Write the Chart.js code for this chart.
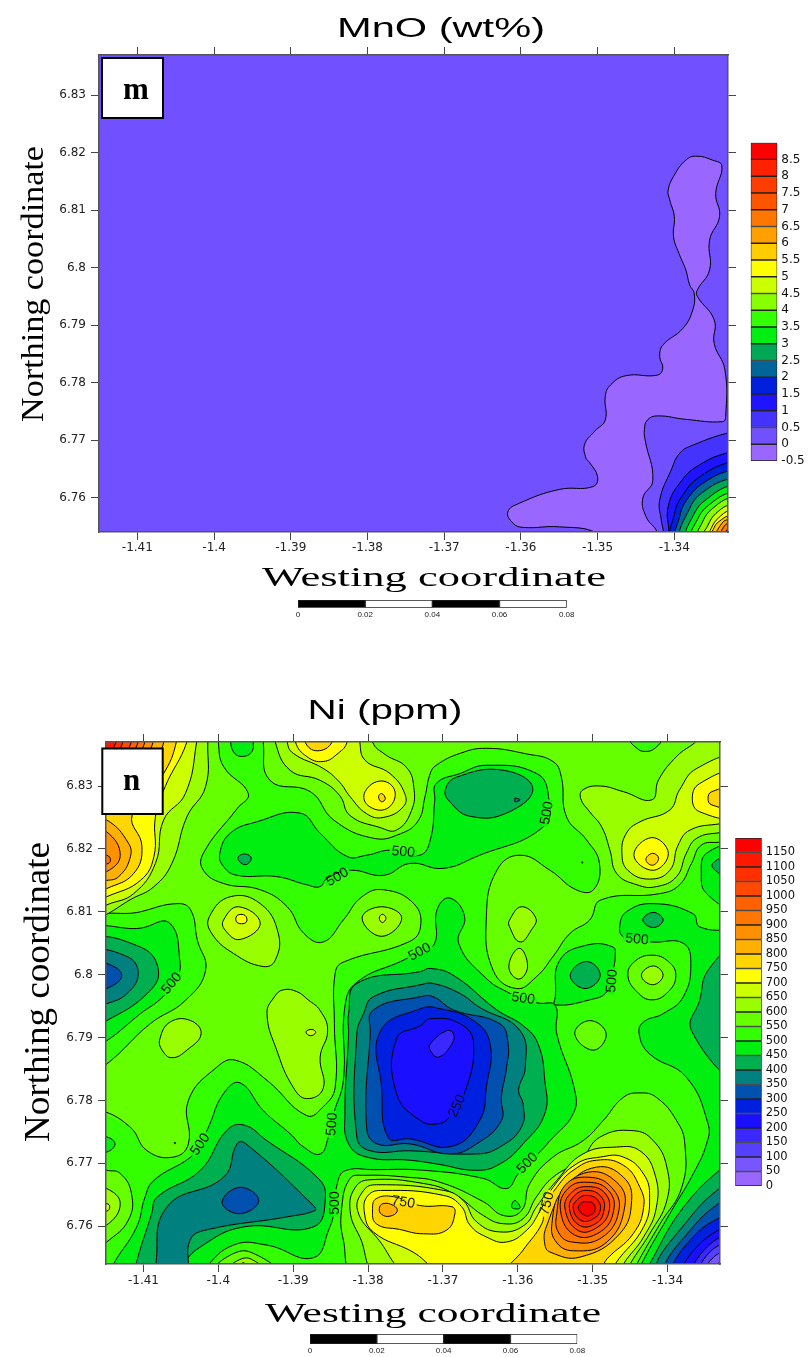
<!DOCTYPE html>
<html>
<head>
<meta charset="utf-8">
<title>MnO and Ni contour maps</title>
<script src="https://cdn.jsdelivr.net/npm/chart.js@4/dist/chart.umd.min.js"></script>
<style>
  html, body { margin: 0; background: #fff; }
  canvas { position: absolute; }
</style>
</head>
<body>
<canvas id="mapMno" width="808" height="640" style="left:0;top:0"></canvas>
<canvas id="mapNi" width="808" height="717" style="left:0;top:640px"></canvas>
<canvas id="barMno" width="63" height="340" style="left:745px;top:135px"></canvas>
<canvas id="barNi" width="78" height="365" style="left:730px;top:830px"></canvas>
<canvas id="scaleMno" width="290" height="28" style="left:290px;top:595px"></canvas>
<canvas id="scaleNi" width="290" height="28" style="left:302px;top:1329px"></canvas>
<script>
// axes
const lonTicks = [-1.41, -1.4, -1.39, -1.38, -1.37, -1.36, -1.35, -1.34];
const latTicks = [6.76, 6.77, 6.78, 6.79, 6.8, 6.81, 6.82, 6.83];
const lonRange = [-1.415, -1.333];
const latRange = [6.754, 6.837];
const scaleTicks = [0, 0.02, 0.04, 0.06, 0.08];
const scaleColors = ['#000000', '#ffffff', '#000000', '#ffffff'];
const corner = [-1.33, 6.752];

// MnO colour scale
const mnoEdges = [-0.5, 0, 0.5, 1, 1.5, 2, 2.5, 3, 3.5, 4, 4.5, 5, 5.5, 6, 6.5, 7, 7.5, 8, 8.5, 9];
const mnoColors = ['#9966ff', '#7050ff', '#4433ff', '#1f14ff', '#0020dd', '#006699', '#00a855', '#00ee11', '#33ff00', '#88ff00',
  '#ccff00', '#ffff00', '#ffcc00', '#ffa000', '#ff7700', '#ff5500', '#ff3d00', '#ff2200', '#ff0000'];

// MnO contours, lon/lat
const mnoBase = [[-1.5, 6.9], [-1.3, 6.9], [-1.3, 6.7], [-1.5, 6.7]];
const mnoLow = [[-1.3338, 6.8177], [-1.335, 6.8187], [-1.3372, 6.8194], [-1.3385, 6.8187], [-1.34, 6.8161], [-1.3408, 6.8135], [-1.3406, 6.8118],
  [-1.34, 6.8089], [-1.3401, 6.8054], [-1.3394, 6.8025], [-1.3385, 6.7996], [-1.338, 6.797], [-1.3374, 6.7955], [-1.3376, 6.7926], [-1.3389, 6.7894],
  [-1.3415, 6.7865], [-1.3419, 6.7845], [-1.3415, 6.7825], [-1.3422, 6.7813], [-1.3463, 6.7812], [-1.3483, 6.7796], [-1.349, 6.7776], [-1.349, 6.7735],
  [-1.3504, 6.7715], [-1.3517, 6.7692], [-1.3515, 6.7668], [-1.3511, 6.7662], [-1.35, 6.7636], [-1.3506, 6.7619], [-1.355, 6.7614], [-1.3602, 6.759],
  [-1.3617, 6.7575], [-1.361, 6.7555], [-1.3597, 6.7548], [-1.355, 6.7549], [-1.3502, 6.7539], [-1.3502, 6.752], [-1.3422, 6.752], [-1.3422, 6.7539],
  [-1.3437, 6.7567], [-1.3441, 6.7599], [-1.3428, 6.763], [-1.3438, 6.77], [-1.3439, 6.7718], [-1.3435, 6.7735], [-1.3422, 6.7742], [-1.3385, 6.7736],
  [-1.3337, 6.7732], [-1.3333, 6.7741], [-1.3334, 6.7822], [-1.3348, 6.7868], [-1.3348, 6.7909], [-1.337, 6.795], [-1.337, 6.7961], [-1.3354, 6.7996],
  [-1.3354, 6.8048], [-1.3341, 6.8089], [-1.3346, 6.8129]];
const mno05 = [[-1.3325, 6.7714], [-1.3376, 6.7691], [-1.3393, 6.7677], [-1.3404, 6.7648], [-1.3419, 6.7596], [-1.3417, 6.7561], [-1.3414, 6.7539], [-1.3414, 6.7526], corner, [-1.33, 6.7716]];
const mno10 = [[-1.3325, 6.768], [-1.3367, 6.7657], [-1.3393, 6.7625], [-1.3408, 6.7584], [-1.3407, 6.7539], [-1.3407, 6.7526], corner, [-1.33, 6.7682]];
const mno15 = [[-1.3325, 6.7663], [-1.3367, 6.7636], [-1.3389, 6.7604], [-1.34, 6.757], [-1.3401, 6.7526], corner, [-1.33, 6.7665]];
const mno20 = [[-1.3325, 6.7648], [-1.3359, 6.7628], [-1.3382, 6.7599], [-1.3393, 6.7567], [-1.3395, 6.7526], corner, [-1.33, 6.765]];
const mno25 = [[-1.3325, 6.7634], [-1.3359, 6.7613], [-1.338, 6.7581], [-1.3389, 6.7526], corner, [-1.33, 6.7636]];
const mno30 = [[-1.3325, 6.7622], [-1.3354, 6.7601], [-1.3374, 6.7572], [-1.3382, 6.7526], corner, [-1.33, 6.7624]];
const mno35 = [[-1.3325, 6.761], [-1.3352, 6.759], [-1.3369, 6.7564], [-1.3376, 6.7526], corner, [-1.33, 6.7612]];
const mno40 = [[-1.3325, 6.7601], [-1.335, 6.7581], [-1.3363, 6.7558], [-1.3369, 6.7526], corner, [-1.33, 6.7603]];
const mno45 = [[-1.3325, 6.7589], [-1.3346, 6.7572], [-1.3356, 6.7552], [-1.3363, 6.7526], corner, [-1.33, 6.7591]];
const mno50 = [[-1.3325, 6.7579], [-1.3342, 6.7565], [-1.3352, 6.7546], [-1.3356, 6.7526], corner, [-1.33, 6.7581]];
const mno55 = [[-1.3325, 6.757], [-1.3339, 6.7561], [-1.3348, 6.7548], [-1.3351, 6.7526], corner, [-1.33, 6.7572]];
const mno60 = [[-1.3325, 6.7563], [-1.3338, 6.7555], [-1.3345, 6.7526], corner, [-1.33, 6.7565]];
const mno65 = [[-1.3325, 6.7557], [-1.3335, 6.755], [-1.334, 6.7526], corner, [-1.33, 6.7559]];
const mno70 = [[-1.3325, 6.7551], [-1.3335, 6.7526], corner, [-1.33, 6.7553]];
const mnoRings = [[0, mnoBase], [-0.5, mnoLow], [0.5, mno05], [1, mno10], [1.5, mno15], [2, mno20], [2.5, mno25], [3, mno30], [3.5, mno35],
  [4, mno40], [4.5, mno45], [5, mno50], [5.5, mno55], [6, mno60], [6.5, mno65], [7, mno70]];

// Ni colour scale
const niEdges = [0, 50, 100, 150, 200, 250, 300, 350, 400, 450, 500, 550, 600, 650, 700, 750, 800, 850, 900, 950, 1000, 1050, 1100, 1150, 1200];
const niColors = ['#9966ff', '#7755ff', '#5540ff', '#3a28ff', '#1a10ff', '#0020e0', '#0050b0', '#00807f', '#00b050', '#00ee10', '#33ff00', '#66ff00',
  '#99ff00', '#ccff00', '#ffff00', '#ffd500', '#ffb000', '#ff9000', '#ff7700', '#ff6000', '#ff4800', '#ff3000', '#ff1800', '#ff0000'];

// Ni contours above 550
const niBase = [[-1.5, 6.9], [-1.3, 6.9], [-1.3, 6.7], [-1.5, 6.7]];
const niWest550 = [[-1.416, 6.7785], [-1.4118, 6.7758], [-1.4095, 6.772], [-1.406, 6.771], [-1.404, 6.7731], [-1.404, 6.78], [-1.4002, 6.7853], [-1.3977, 6.7864],
  [-1.3935, 6.7832], [-1.3882, 6.7776], [-1.386, 6.779], [-1.3844, 6.7821], [-1.3845, 6.7922], [-1.3844, 6.8002], [-1.3833, 6.802], [-1.3746, 6.8052],
  [-1.373, 6.8076], [-1.3739, 6.8113], [-1.3779, 6.8135], [-1.3808, 6.8124], [-1.3833, 6.8087], [-1.386, 6.8052], [-1.3886, 6.8066], [-1.3908, 6.8108],
  [-1.3944, 6.8135], [-1.3993, 6.8145], [-1.402, 6.8166], [-1.402, 6.8193], [-1.3975, 6.8264], [-1.396, 6.8288], [-1.3993, 6.8331], [-1.4, 6.837],
  [-1.4, 6.84], [-1.42, 6.84], [-1.42, 6.7785]];
const niEast550 = [[-1.394, 6.84], [-1.394, 6.837], [-1.3931, 6.8309], [-1.3877, 6.8291], [-1.3846, 6.8246], [-1.3793, 6.8217], [-1.3757, 6.8224], [-1.3733, 6.8245],
  [-1.3724, 6.8283], [-1.3717, 6.832], [-1.3709, 6.8333], [-1.3677, 6.8352], [-1.3642, 6.836], [-1.3588, 6.8351], [-1.3553, 6.8339], [-1.3542, 6.8315],
  [-1.3535, 6.8251], [-1.3508, 6.8214], [-1.3491, 6.8177], [-1.3499, 6.8135], [-1.3522, 6.8135], [-1.3557, 6.8166], [-1.3597, 6.819], [-1.3628, 6.8166],
  [-1.3642, 6.8092], [-1.3633, 6.8007], [-1.3602, 6.7978], [-1.3575, 6.7997], [-1.3553, 6.8029], [-1.353, 6.8066], [-1.3504, 6.8087], [-1.3489, 6.8119],
  [-1.341, 6.8129], [-1.3384, 6.8143], [-1.3368, 6.8177], [-1.3355, 6.8206], [-1.333, 6.8211], [-1.331, 6.8215], [-1.33, 6.84]];
const niHill550 = [[-1.3815, 6.7525], [-1.3833, 6.7578], [-1.3835, 6.7631], [-1.3824, 6.7676], [-1.3806, 6.7681], [-1.3748, 6.7678], [-1.3704, 6.767], [-1.3646, 6.7639],
  [-1.3619, 6.7617], [-1.3595, 6.7625], [-1.3584, 6.7668], [-1.3553, 6.771], [-1.3513, 6.7736], [-1.3486, 6.7768], [-1.3459, 6.7805], [-1.3437, 6.7812],
  [-1.3415, 6.7805], [-1.3388, 6.7768], [-1.3377, 6.7731], [-1.3381, 6.7662], [-1.341, 6.7604], [-1.3441, 6.754], [-1.3446, 6.7524]];
const niBump550 = [[-1.4004, 6.753], [-1.3975, 6.7559], [-1.3948, 6.7554], [-1.3924, 6.753]];
const niBump600 = [[-1.3987, 6.753], [-1.3967, 6.7549], [-1.3949, 6.7543], [-1.3938, 6.753]];
const niBump650 = [[-1.3971, 6.7533], [-1.3967, 6.7542], [-1.396, 6.7533]];
const niEdge550 = [[-1.417, 6.756], [-1.4149, 6.7575], [-1.412, 6.761], [-1.4116, 6.7652], [-1.4131, 6.7684], [-1.4149, 6.7689], [-1.417, 6.7695]];
const niEdge600 = [[-1.417, 6.766], [-1.4149, 6.766], [-1.4131, 6.7636], [-1.4149, 6.7602], [-1.417, 6.7602]];
const niEdge650 = [[-1.417, 6.7636], [-1.4149, 6.7636], [-1.4145, 6.7631], [-1.4149, 6.7624], [-1.417, 6.7624]];
const niSouth550 = [[-1.3453, 6.7999], [-1.3444, 6.8021], [-1.3421, 6.8031], [-1.3399, 6.8021], [-1.3389, 6.7999], [-1.3399, 6.7973], [-1.3421, 6.796], [-1.3441, 6.7973]];
const niSouth600 = [[-1.3435, 6.7999], [-1.3419, 6.8014], [-1.3406, 6.7999], [-1.342, 6.7984]];
const niMid550 = [[-1.3524, 6.7906], [-1.3504, 6.7927], [-1.3482, 6.7906], [-1.3499, 6.788]];

// holes in the 550 area
const niHole550 = [[-1.417, 6.808], [-1.4104, 6.81], [-1.4055, 6.8113], [-1.4037, 6.8103], [-1.4028, 6.8055], [-1.4017, 6.8007], [-1.4044, 6.7959], [-1.4091, 6.7922], [-1.4149, 6.7858], [-1.417, 6.7848]];
const niTopHole = [[-1.3453, 6.84], [-1.3453, 6.8378], [-1.3441, 6.836], [-1.343, 6.8355], [-1.3417, 6.836], [-1.3406, 6.8378], [-1.3406, 6.84]];
const niDotA = [[-1.4059, 6.7733], [-1.4057, 6.7733], [-1.4058, 6.7731]];
const niDotB = [[-1.3515, 6.8179], [-1.3513, 6.8179], [-1.3514, 6.8177]];

// north-west corner and west peak
const niNw600 = [[-1.4014, 6.84], [-1.4014, 6.837], [-1.4017, 6.8299], [-1.4042, 6.8251], [-1.4062, 6.8177], [-1.4086, 6.814], [-1.4118, 6.8119], [-1.4149, 6.8096], [-1.417, 6.8085], [-1.42, 6.84]];
const niNw650 = [[-1.4029, 6.84], [-1.4029, 6.837], [-1.4044, 6.8288], [-1.4073, 6.8246], [-1.4084, 6.8177], [-1.4113, 6.8129], [-1.4149, 6.8111], [-1.417, 6.81], [-1.42, 6.84]];
const niNw700 = [[-1.4042, 6.84], [-1.4042, 6.837], [-1.4071, 6.8299], [-1.4084, 6.8251], [-1.4086, 6.8188], [-1.4104, 6.815], [-1.4149, 6.8124], [-1.417, 6.8115], [-1.42, 6.84]];
const niNw750 = [[-1.4056, 6.84], [-1.4056, 6.837], [-1.4073, 6.832], [-1.4115, 6.8254], [-1.4102, 6.8204], [-1.4113, 6.8161], [-1.4149, 6.8137], [-1.417, 6.813], [-1.42, 6.84]];
const niW800 = [[-1.417, 6.8246], [-1.4149, 6.8246], [-1.412, 6.8209], [-1.4118, 6.8185], [-1.4133, 6.8156], [-1.4149, 6.815], [-1.417, 6.815]];
const niW850 = [[-1.417, 6.8227], [-1.4149, 6.8227], [-1.4131, 6.819], [-1.4149, 6.8164], [-1.417, 6.8164]];
const niW900 = [[-1.417, 6.819], [-1.4149, 6.819], [-1.4144, 6.8182], [-1.4149, 6.8176], [-1.417, 6.8176]];
const niC800 = [[-1.407, 6.84], [-1.407, 6.838], [-1.4087, 6.8347], [-1.417, 6.8347], [-1.417, 6.84]];
const niC850 = [[-1.4084, 6.84], [-1.4084, 6.838], [-1.4102, 6.8347], [-1.417, 6.8347], [-1.417, 6.84]];
const niC900 = [[-1.4095, 6.84], [-1.4095, 6.838], [-1.4113, 6.8347], [-1.417, 6.8347], [-1.417, 6.84]];
const niC950 = [[-1.4104, 6.84], [-1.4104, 6.838], [-1.4122, 6.8347], [-1.417, 6.8347], [-1.417, 6.84]];
const niC1000 = [[-1.4113, 6.84], [-1.4113, 6.838], [-1.4131, 6.8347], [-1.417, 6.8347], [-1.417, 6.84]];
const niC1050 = [[-1.4124, 6.84], [-1.4124, 6.838], [-1.4142, 6.8347], [-1.417, 6.8347], [-1.417, 6.84]];
const niC1100 = [[-1.4133, 6.84], [-1.4133, 6.838], [-1.4151, 6.8347], [-1.417, 6.8347], [-1.417, 6.84]];

// small highs, west half
const niA600 = [[-1.4012, 6.8092], [-1.3984, 6.8124], [-1.3944, 6.8113], [-1.392, 6.8066], [-1.3924, 6.8023], [-1.394, 6.8013], [-1.398, 6.8034], [-1.4009, 6.8066]];
const niA650 = [[-1.3993, 6.8087], [-1.3973, 6.8108], [-1.3944, 6.8082], [-1.3971, 6.8056], [-1.3991, 6.8071]];
const niA700 = [[-1.3975, 6.8094], [-1.3964, 6.8094], [-1.3963, 6.8083], [-1.3975, 6.8083]];
const niB600 = [[-1.3808, 6.809], [-1.3782, 6.8108], [-1.3755, 6.809], [-1.3782, 6.8061]];
const niB650 = [[-1.3785, 6.809], [-1.3781, 6.8096], [-1.3776, 6.809], [-1.3781, 6.8083]];
const niD600 = [[-1.4078, 6.7898], [-1.4064, 6.7925], [-1.4037, 6.7927], [-1.4023, 6.7906], [-1.4042, 6.788], [-1.4062, 6.7868], [-1.4075, 6.788]];
const niE600 = [[-1.3913, 6.7976], [-1.3895, 6.7973], [-1.388, 6.796], [-1.3864, 6.7943], [-1.3854, 6.7911], [-1.3864, 6.7869], [-1.386, 6.7819], [-1.3882, 6.7803],
  [-1.39, 6.7821], [-1.3922, 6.788], [-1.3935, 6.7938], [-1.3925, 6.7965]];
const niE650 = [[-1.3883, 6.7909], [-1.3875, 6.7913], [-1.387, 6.7908], [-1.3877, 6.7903]];

// top hill near -1.38
const niT600 = [[-1.3794, 6.84], [-1.3794, 6.837], [-1.3777, 6.835], [-1.3749, 6.833], [-1.3739, 6.8299], [-1.3742, 6.8261], [-1.3762, 6.823], [-1.3784, 6.8234],
  [-1.3824, 6.8253], [-1.3838, 6.8285], [-1.3864, 6.8309], [-1.3904, 6.8325], [-1.3924, 6.837], [-1.3924, 6.84]];
const niT650 = [[-1.3811, 6.84], [-1.3811, 6.837], [-1.3804, 6.8341], [-1.3771, 6.832], [-1.3751, 6.8288], [-1.3753, 6.8267], [-1.378, 6.825], [-1.3802, 6.8256],
  [-1.3824, 6.8283], [-1.3838, 6.8306], [-1.386, 6.8328], [-1.39, 6.8352], [-1.3908, 6.837], [-1.3908, 6.84]];
const niT700 = [[-1.3897, 6.84], [-1.3897, 6.837], [-1.3882, 6.8347], [-1.386, 6.8339], [-1.384, 6.8352], [-1.3828, 6.837], [-1.3828, 6.84]];
const niT750 = [[-1.3884, 6.84], [-1.3884, 6.837], [-1.3868, 6.8356], [-1.3848, 6.837], [-1.3848, 6.84]];
const niU700 = [[-1.3804, 6.8291], [-1.3782, 6.8308], [-1.3764, 6.8291], [-1.3775, 6.8264], [-1.38, 6.8269]];
const niU750 = [[-1.3786, 6.8283], [-1.3782, 6.8288], [-1.3777, 6.828], [-1.3782, 6.8275]];

// north-east highs
const niNe600 = [[-1.3357, 6.84], [-1.3357, 6.8378], [-1.3388, 6.8347], [-1.3412, 6.831], [-1.3421, 6.8278], [-1.3459, 6.8291], [-1.349, 6.83], [-1.3513, 6.8294],
  [-1.3516, 6.828], [-1.3504, 6.8259], [-1.3488, 6.8235], [-1.3477, 6.8198], [-1.3468, 6.8161], [-1.3441, 6.8143], [-1.3415, 6.814], [-1.3388, 6.8156],
  [-1.3375, 6.8193], [-1.3361, 6.8217], [-1.333, 6.8226], [-1.331, 6.8228], [-1.33, 6.84]];
const niNe650 = [[-1.331, 6.8342], [-1.3361, 6.8328], [-1.3384, 6.8294], [-1.3397, 6.8262], [-1.3437, 6.8243], [-1.3455, 6.8225], [-1.3461, 6.8193], [-1.3453, 6.8166],
  [-1.3424, 6.8152], [-1.3397, 6.8166], [-1.3386, 6.8206], [-1.337, 6.823], [-1.333, 6.824], [-1.331, 6.8242]];
const niNe700 = [[-1.331, 6.832], [-1.3357, 6.8304], [-1.3367, 6.828], [-1.3357, 6.8259], [-1.331, 6.8254]];
const niNe750 = [[-1.331, 6.8296], [-1.3341, 6.8291], [-1.3346, 6.828], [-1.3341, 6.827], [-1.331, 6.8266]];
const niV700 = [[-1.3445, 6.819], [-1.3421, 6.8218], [-1.3399, 6.8193], [-1.3419, 6.8166]];
const niV750 = [[-1.3429, 6.8183], [-1.342, 6.8193], [-1.3412, 6.8185], [-1.342, 6.8174]];
const niF600 = [[-1.3611, 6.8087], [-1.3595, 6.8108], [-1.3576, 6.809], [-1.3582, 6.8071], [-1.3597, 6.8052], [-1.3611, 6.8076]];
const niG600 = [[-1.3598, 6.8042], [-1.3587, 6.8013], [-1.3599, 6.7993], [-1.3612, 6.8013]];

// south hill and the peak
const niHill600 = [[-1.3784, 6.7525], [-1.3811, 6.7583], [-1.3824, 6.7625], [-1.3817, 6.7662], [-1.3797, 6.7674], [-1.3726, 6.7668], [-1.3686, 6.7652], [-1.3646, 6.7617],
  [-1.3619, 6.7604], [-1.3593, 6.7612], [-1.3575, 6.7647], [-1.3553, 6.7678], [-1.3517, 6.7705], [-1.349, 6.7742], [-1.3446, 6.7752], [-1.3419, 6.7736],
  [-1.3401, 6.7694], [-1.3401, 6.7641], [-1.3424, 6.7588], [-1.345, 6.754], [-1.3455, 6.7524]];
const niHill650 = [[-1.374, 6.7525], [-1.3789, 6.7583], [-1.3814, 6.7625], [-1.3806, 6.7657], [-1.3789, 6.7666], [-1.3699, 6.7657], [-1.3673, 6.7641], [-1.3655, 6.7607],
  [-1.3624, 6.7591], [-1.3591, 6.7602], [-1.3575, 6.7631], [-1.3548, 6.7673], [-1.3513, 6.7715], [-1.3468, 6.7726], [-1.3437, 6.772], [-1.3417, 6.7683],
  [-1.3415, 6.763], [-1.3432, 6.7583], [-1.3459, 6.754], [-1.3464, 6.7524]];
const niHill700 = [[-1.3695, 6.7525], [-1.374, 6.7559], [-1.3793, 6.7591], [-1.3805, 6.7623], [-1.38, 6.7649], [-1.378, 6.7657], [-1.3699, 6.7649], [-1.3675, 6.7631],
  [-1.3664, 6.7602], [-1.3642, 6.7583], [-1.3615, 6.7575], [-1.3588, 6.7594], [-1.3571, 6.7623], [-1.3553, 6.7662], [-1.3522, 6.7699], [-1.349, 6.771],
  [-1.3459, 6.771], [-1.3432, 6.7683], [-1.3424, 6.7646], [-1.3432, 6.7599], [-1.347, 6.754], [-1.3475, 6.7524]];
const niHillW750 = [[-1.3794, 6.7628], [-1.3789, 6.7604], [-1.3758, 6.7595], [-1.3726, 6.7588], [-1.3695, 6.7594], [-1.3684, 6.762], [-1.3688, 6.7631], [-1.3731, 6.7633], [-1.3766, 6.7647], [-1.3789, 6.7644]];
const niHillW800 = [[-1.3785, 6.7628], [-1.378, 6.7636], [-1.3766, 6.7633], [-1.3761, 6.7624], [-1.3771, 6.7616], [-1.3782, 6.7619]];
const niPeak750 = [[-1.3615, 6.7524], [-1.3593, 6.7562], [-1.3568, 6.7604], [-1.3564, 6.763], [-1.3548, 6.7662], [-1.3526, 6.7689], [-1.3495, 6.7705], [-1.3459, 6.7697],
  [-1.3437, 6.7662], [-1.3432, 6.763], [-1.3446, 6.7588], [-1.3481, 6.7548], [-1.3495, 6.7524]];
const niPeak800 = [[-1.3562, 6.7599], [-1.3535, 6.7662], [-1.3495, 6.7694], [-1.3459, 6.7678], [-1.3448, 6.7641], [-1.3464, 6.7588], [-1.3517, 6.7551], [-1.3557, 6.7559], [-1.3564, 6.7572]];
const niPeak850 = [[-1.3554, 6.7609], [-1.3542, 6.7654], [-1.3506, 6.7686], [-1.3468, 6.767], [-1.3457, 6.7633], [-1.3481, 6.7575], [-1.3526, 6.7561], [-1.355, 6.7577]];
const niPeak900 = [[-1.3548, 6.762], [-1.3537, 6.7665], [-1.3506, 6.7678], [-1.3475, 6.7662], [-1.3465, 6.7625], [-1.3488, 6.7582], [-1.3528, 6.7575], [-1.3546, 6.7591]];
const niPeak950 = [[-1.3543, 6.7625], [-1.3533, 6.766], [-1.3506, 6.767], [-1.3479, 6.7657], [-1.3472, 6.7625], [-1.349, 6.7591], [-1.3524, 6.7586]];
const niPeak1000 = [[-1.3537, 6.7628], [-1.3528, 6.7654], [-1.3506, 6.7663], [-1.3484, 6.7653], [-1.3478, 6.7625], [-1.3493, 6.7599], [-1.3519, 6.7593]];
const niPeak1050 = [[-1.3531, 6.7628], [-1.3524, 6.7649], [-1.3506, 6.7657], [-1.3488, 6.7646], [-1.3485, 6.7625], [-1.3495, 6.7605], [-1.3517, 6.7601]];
const niPeak1100 = [[-1.3526, 6.7628], [-1.3519, 6.7644], [-1.3506, 6.7649], [-1.3493, 6.7641], [-1.349, 6.7625], [-1.3499, 6.7612], [-1.3515, 6.7609]];
const niPeak1150 = [[-1.3519, 6.7628], [-1.3515, 6.7637], [-1.3507, 6.7639], [-1.3499, 6.7636], [-1.3497, 6.7626], [-1.3501, 6.7619], [-1.351, 6.7617]];

// lows: 500 contours
const niBig500 = [[-1.402, 6.753], [-1.398, 6.757], [-1.3935, 6.757], [-1.3873, 6.755], [-1.3851, 6.7599], [-1.3846, 6.762], [-1.384, 6.7673], [-1.3829, 6.7689],
  [-1.3793, 6.769], [-1.3726, 6.7689], [-1.3646, 6.7676], [-1.3615, 6.766], [-1.3599, 6.7684], [-1.3573, 6.7715], [-1.3557, 6.7736], [-1.3526, 6.7779],
  [-1.3524, 6.7816], [-1.3548, 6.7906], [-1.355, 6.7951], [-1.3573, 6.7955], [-1.3593, 6.7962], [-1.361, 6.797], [-1.3642, 6.7994], [-1.3679, 6.805],
  [-1.3671, 6.8092], [-1.3691, 6.8122], [-1.3708, 6.8103], [-1.3711, 6.805], [-1.3731, 6.8037], [-1.3753, 6.8023], [-1.3815, 6.7988], [-1.3831, 6.7949],
  [-1.3833, 6.7832], [-1.3846, 6.7779], [-1.3853, 6.7742], [-1.3864, 6.7715], [-1.3886, 6.7726], [-1.3904, 6.7747], [-1.394, 6.7784], [-1.3971, 6.7828],
  [-1.3993, 6.7811], [-1.4013, 6.7758], [-1.4024, 6.7731], [-1.4037, 6.771], [-1.4086, 6.7673], [-1.4098, 6.7646], [-1.4109, 6.7599], [-1.4142, 6.7535],
  [-1.4142, 6.752], [-1.402, 6.752]];
const niLobe500 = [[-1.355, 6.7965], [-1.3544, 6.8023], [-1.3508, 6.8047], [-1.3473, 6.8044], [-1.347, 6.8029], [-1.3473, 6.8007], [-1.3481, 6.7973], [-1.3504, 6.796], [-1.355, 6.7952]];
const niRight500 = [[-1.331, 6.807], [-1.3357, 6.8076], [-1.3366, 6.8097], [-1.3419, 6.8113], [-1.3455, 6.81], [-1.3464, 6.8076], [-1.3459, 6.806], [-1.3441, 6.8056],
  [-1.3421, 6.8052], [-1.3379, 6.805], [-1.3369, 6.8018], [-1.3379, 6.7965], [-1.3406, 6.7938], [-1.3432, 6.7925], [-1.3438, 6.7906], [-1.3424, 6.7874],
  [-1.3375, 6.7837], [-1.3346, 6.7763], [-1.3348, 6.7731], [-1.3366, 6.7683], [-1.3397, 6.762], [-1.3435, 6.754], [-1.3439, 6.7524], corner, [-1.33, 6.807]];
const niTop500 = [[-1.3998, 6.8193], [-1.3984, 6.8225], [-1.3949, 6.8243], [-1.3891, 6.8257], [-1.3864, 6.8225], [-1.3828, 6.8188], [-1.3802, 6.819], [-1.377, 6.8198],
  [-1.3731, 6.819], [-1.3717, 6.8214], [-1.3711, 6.8277], [-1.3709, 6.8304], [-1.3677, 6.832], [-1.3642, 6.8333], [-1.3575, 6.832], [-1.3559, 6.8283],
  [-1.3566, 6.8235], [-1.3655, 6.8188], [-1.37, 6.8169], [-1.3744, 6.8177], [-1.3779, 6.8158], [-1.3824, 6.8166], [-1.3855, 6.8153], [-1.3864, 6.814],
  [-1.3882, 6.8143], [-1.3922, 6.8156], [-1.3975, 6.8158], [-1.3993, 6.8172]];
const niBlob500 = [[-1.3984, 6.84], [-1.3984, 6.8378], [-1.398, 6.8355], [-1.3969, 6.8347], [-1.3955, 6.8355], [-1.3954, 6.8378], [-1.3954, 6.84]];
const niEdge500 = [[-1.417, 6.8065], [-1.4104, 6.8074], [-1.4065, 6.8082], [-1.4051, 6.8018], [-1.4055, 6.7997], [-1.4074, 6.7965], [-1.4104, 6.7938], [-1.4149, 6.7895], [-1.417, 6.7885]];
const niEdge450 = [[-1.417, 6.805], [-1.4104, 6.8044], [-1.408, 6.8007], [-1.4095, 6.797], [-1.4149, 6.7927], [-1.417, 6.792]];
const niEdge400 = [[-1.417, 6.8033], [-1.4122, 6.8029], [-1.4107, 6.8002], [-1.4122, 6.797], [-1.4149, 6.7954], [-1.417, 6.795]];
const niEdge350 = [[-1.417, 6.8018], [-1.4149, 6.8018], [-1.4129, 6.7999], [-1.4149, 6.7978], [-1.417, 6.7978]];
const niSide500 = [[-1.331, 6.8201], [-1.3348, 6.8193], [-1.3355, 6.8161], [-1.3348, 6.8129], [-1.331, 6.8108]];
const niSide450 = [[-1.331, 6.8188], [-1.3341, 6.8174], [-1.331, 6.8153]];
const niSmall500 = [[-1.417, 6.7742], [-1.4149, 6.7742], [-1.4138, 6.7731], [-1.4149, 6.7718], [-1.417, 6.7718]];
const niTriangle = [[-1.3608, 6.763], [-1.3604, 6.7641], [-1.3597, 6.7629]];

// lows: 450 and below
const niBig450 = [[-1.3826, 6.7938], [-1.3815, 6.7986], [-1.373, 6.8005], [-1.3717, 6.801], [-1.3686, 6.7999], [-1.3628, 6.7944], [-1.3593, 6.7919], [-1.3573, 6.789],
  [-1.3564, 6.7832], [-1.3564, 6.7779], [-1.3593, 6.7731], [-1.3624, 6.7699], [-1.3655, 6.7689], [-1.3708, 6.7699], [-1.3744, 6.7705], [-1.3802, 6.771],
  [-1.3826, 6.7731], [-1.3831, 6.7779], [-1.3826, 6.7906]];
const niBig400 = [[-1.3806, 6.7938], [-1.3793, 6.7965], [-1.373, 6.7984], [-1.3713, 6.7986], [-1.3677, 6.797], [-1.3651, 6.7948], [-1.3597, 6.7911], [-1.359, 6.7853],
  [-1.3599, 6.7816], [-1.3593, 6.7795], [-1.3595, 6.7758], [-1.3624, 6.7726], [-1.3655, 6.7715], [-1.3744, 6.772], [-1.3797, 6.772], [-1.3815, 6.7742], [-1.3815, 6.7906]];
const niBig350 = [[-1.3793, 6.7944], [-1.373, 6.7965], [-1.3713, 6.7965], [-1.3686, 6.7944], [-1.3624, 6.7922], [-1.3613, 6.789], [-1.3615, 6.7853], [-1.3622, 6.7805],
  [-1.3622, 6.7768], [-1.3655, 6.7731], [-1.3691, 6.7715], [-1.3744, 6.7731], [-1.3788, 6.7731], [-1.3802, 6.7758], [-1.3797, 6.7906]];
const niBig300 = [[-1.3784, 6.7909], [-1.373, 6.7946], [-1.3704, 6.7946], [-1.3659, 6.7927], [-1.3637, 6.789], [-1.3642, 6.7821], [-1.3651, 6.7768], [-1.3688, 6.7727],
  [-1.3744, 6.7739], [-1.3773, 6.7741], [-1.3782, 6.7821]];
const niBig250 = [[-1.373, 6.7919], [-1.3762, 6.7898], [-1.3762, 6.7811], [-1.373, 6.7768], [-1.3706, 6.7763], [-1.3691, 6.7774], [-1.3673, 6.7805], [-1.3659, 6.789], [-1.3677, 6.7922], [-1.3717, 6.793]];
const niBig200 = [[-1.3717, 6.789], [-1.3695, 6.7911], [-1.3686, 6.7906], [-1.3688, 6.789], [-1.3706, 6.7869], [-1.3717, 6.788]];
const niSw450 = [[-1.4111, 6.752], [-1.4111, 6.7535], [-1.4089, 6.762], [-1.4082, 6.7646], [-1.4024, 6.7689], [-1.3989, 6.7752], [-1.3966, 6.7761], [-1.3935, 6.7736],
  [-1.3868, 6.7678], [-1.3857, 6.7646], [-1.3873, 6.7599], [-1.3966, 6.7599], [-1.4024, 6.7567], [-1.4049, 6.7535], [-1.4049, 6.752]];
const niSw400 = [[-1.4084, 6.752], [-1.4084, 6.7535], [-1.4069, 6.763], [-1.3993, 6.7678], [-1.3975, 6.7731], [-1.3964, 6.7732], [-1.3873, 6.7633], [-1.3871, 6.7625],
  [-1.3908, 6.7615], [-1.402, 6.7593], [-1.4038, 6.7577], [-1.404, 6.7535], [-1.404, 6.752]];
const niSw350 = [[-1.3995, 6.7638], [-1.3971, 6.7662], [-1.3946, 6.7641], [-1.3971, 6.762]];
const niLobe450 = [[-1.353, 6.7999], [-1.3508, 6.8021], [-1.349, 6.7999], [-1.351, 6.7978]];
const niPatch450 = [[-1.3433, 6.8087], [-1.3419, 6.8099], [-1.3406, 6.8087], [-1.3419, 6.8075]];
const niTop450 = [[-1.3697, 6.8293], [-1.3682, 6.8314], [-1.3619, 6.8325], [-1.358, 6.8296], [-1.3615, 6.8257], [-1.3664, 6.8252], [-1.369, 6.8274]];
const niTop400 = [[-1.3604, 6.8279], [-1.3604, 6.8281], [-1.3597, 6.8278], [-1.3604, 6.8275]];
const niSpot450 = [[-1.3974, 6.8185], [-1.3965, 6.8192], [-1.3956, 6.8185], [-1.3964, 6.8175]];
const niEast450 = [[-1.331, 6.804], [-1.3346, 6.8007], [-1.3357, 6.796], [-1.3368, 6.7911], [-1.331, 6.7842]];
const niSe450 = [[-1.331, 6.771], [-1.3375, 6.7636], [-1.3424, 6.754], [-1.3428, 6.7524], corner, [-1.329, 6.7725]];
const niSe400 = [[-1.331, 6.768], [-1.337, 6.7614], [-1.3412, 6.7524], corner, [-1.329, 6.7695]];
const niSe350 = [[-1.331, 6.7655], [-1.3366, 6.7599], [-1.3401, 6.7524], corner, [-1.329, 6.767]];
const niSe300 = [[-1.331, 6.7628], [-1.3366, 6.7583], [-1.339, 6.7524], corner, [-1.329, 6.7643]];
const niSe250 = [[-1.331, 6.761], [-1.3361, 6.7567], [-1.3377, 6.7524], corner, [-1.329, 6.7625]];
const niSe200 = [[-1.331, 6.7597], [-1.3352, 6.7561], [-1.3364, 6.7524], corner, [-1.329, 6.7612]];
const niSe150 = [[-1.331, 6.7583], [-1.3346, 6.7556], [-1.3355, 6.7524], corner, [-1.329, 6.7598]];
const niSe100 = [[-1.331, 6.757], [-1.3341, 6.7548], [-1.3348, 6.7524], corner, [-1.329, 6.7585]];
const niSe50 = [[-1.331, 6.756], [-1.3338, 6.7535], [-1.3341, 6.7524], corner, [-1.329, 6.7575]];

// paint order: level is the bottom of the band that fills the ring
const niRings = [[500, niBase], [550, niWest550], [550, niEast550], [550, niHill550], [550, niBump550], [600, niBump600], [650, niBump650],
  [550, niEdge550], [600, niEdge600], [650, niEdge650], [550, niSouth550], [600, niSouth600], [550, niMid550],
  [500, niHole550], [500, niTopHole], [500, niDotA], [500, niDotB],
  [600, niNw600], [650, niNw650], [700, niNw700], [750, niNw750], [800, niW800], [850, niW850], [900, niW900],
  [800, niC800], [850, niC850], [900, niC900], [950, niC950], [1000, niC1000], [1050, niC1050], [1100, niC1100],
  [600, niA600], [650, niA650], [700, niA700], [600, niB600], [650, niB650], [600, niD600], [600, niE600], [650, niE650],
  [600, niT600], [650, niT650], [700, niT700], [750, niT750], [700, niU700], [750, niU750],
  [600, niNe600], [650, niNe650], [700, niNe700], [750, niNe750], [700, niV700], [750, niV750], [600, niF600], [600, niG600],
  [600, niHill600], [650, niHill650], [700, niHill700], [750, niHillW750], [800, niHillW800],
  [750, niPeak750], [800, niPeak800], [850, niPeak850], [900, niPeak900], [950, niPeak950], [1000, niPeak1000], [1050, niPeak1050], [1100, niPeak1100], [1150, niPeak1150],
  [450, niBig500], [450, niLobe500], [450, niRight500], [450, niTop500], [450, niBlob500], [450, niEdge500], [450, niSide500], [450, niSmall500], [450, niTriangle],
  [400, niEdge450], [350, niEdge400], [300, niEdge350], [400, niSide450],
  [400, niBig450], [350, niBig400], [300, niBig350], [250, niBig300], [200, niBig250], [150, niBig200],
  [400, niSw450], [350, niSw400], [300, niSw350], [400, niLobe450], [400, niPatch450], [400, niTop450], [350, niTop400], [400, niSpot450], [400, niEast450],
  [400, niSe450], [350, niSe400], [300, niSe350], [250, niSe300], [200, niSe250], [150, niSe200], [100, niSe150], [50, niSe100], [0, niSe50]];

// contour labels: lon, lat, text, angle, colour behind the text
const niLabels = [[-1.3753, 6.8195, '500', 5, '#19f708'], [-1.3841, 6.8155, '500', -30, '#19f708'], [-1.4062, 6.7986, '500', -50, '#19f708'],
  [-1.3561, 6.8257, '500', -80, '#19f708'], [-1.3731, 6.8036, '500', -28, '#19f708'], [-1.3441, 6.8056, '500', 5, '#19f708'], [-1.3593, 6.7962, '500', 8, '#19f708'],
  [-1.3474, 6.799, '500', -85, '#19f708'], [-1.4024, 6.773, '500', -55, '#19f708'], [-1.3848, 6.7762, '500', -85, '#19f708'], [-1.3844, 6.7637, '500', -90, '#19f708'],
  [-1.3587, 6.77, '500', -45, '#19f708'], [-1.3681, 6.7791, '250', -65, '#0d18f0'], [-1.3753, 6.7638, '750', 10, '#ffea00'], [-1.3561, 6.7636, '750', -75, '#ffea00']];

// fits one text into a measured width, the map fonts are stretched
const pageText = {
  id: 'pageText',
  afterDraw(chart, args, opts) {
    const ctx = chart.ctx;
    ctx.save();
    ctx.fillStyle = '#fff';
    ctx.strokeStyle = '#000';
    ctx.lineWidth = 2;
    ctx.fillRect(opts.box.x, opts.box.y, opts.box.w, opts.box.h);
    ctx.strokeRect(opts.box.x, opts.box.y, opts.box.w, opts.box.h);
    ctx.fillStyle = '#000';
    ctx.textAlign = 'center';
    ctx.textBaseline = 'alphabetic';
    opts.items.forEach(t => {
      ctx.save();
      ctx.font = t.font;
      ctx.translate(t.x, t.y);
      if (t.rotate) ctx.rotate(t.rotate * Math.PI / 180);
      if (t.width) ctx.scale(t.width / ctx.measureText(t.text).width, 1);
      ctx.fillText(t.text, 0, 0);
      ctx.restore();
    });
    ctx.restore();
  }
};

const contourLabels = {
  id: 'contourLabels',
  afterDatasetsDraw(chart, args, opts) {
    const ctx = chart.ctx;
    ctx.save();
    ctx.font = '14px "Liberation Sans"';
    ctx.textAlign = 'center';
    ctx.textBaseline = 'middle';
    opts.labels.forEach(([lon, lat, text, angle, bg]) => {
      const w = ctx.measureText(text).width;
      ctx.save();
      ctx.translate(chart.scales.x.getPixelForValue(lon), chart.scales.y.getPixelForValue(lat));
      ctx.rotate(angle * Math.PI / 180);
      ctx.fillStyle = bg;
      ctx.fillRect(-w / 2 - 2, -3, w + 4, 6);
      ctx.fillStyle = '#111';
      ctx.fillText(text, 0, 0);
      ctx.restore();
    });
    ctx.restore();
  }
};

function ringDatasets(rings, edges, colors) {
  // chart.js paints the first dataset last, so the list goes in reversed
  return rings.map(([level, ring]) => {
    // wrap two points round so the spline has no kink where the ring closes,
    // the first and last stretch only help the curve and stay unstroked
    const pts = [ring[ring.length - 1], ...ring, ring[0], ring[1]];
    const last = pts.length - 1;
    return {
      data: pts.map(p => ({ x: p[0], y: p[1] })),
      showLine: true,
      fill: 'shape',
      tension: 0.45,
      capBezierPoints: false,
      backgroundColor: colors[edges.indexOf(level)],
      borderColor: '#000',
      borderWidth: 1,
      pointRadius: 0,
      segment: { borderColor: c => (c.p0DataIndex === 0 || c.p1DataIndex === last) ? 'transparent' : '#000' }
    };
  }).reverse();
}

function drawMap(id, rings, edges, colors, frame, text, labels) {
  const fit = size => s => { Object.assign(s, size); };
  const fixTicks = values => s => { s.ticks = values.map(v => ({ value: v })); };
  const axis = (range, values, size, extra) => Object.assign({
    type: 'linear',
    min: range[0],
    max: range[1],
    afterBuildTicks: fixTicks(values),
    afterFit: fit(size),
    border: { color: '#555', width: 1.5, z: 1 },
    grid: { drawOnChartArea: false, tickLength: 8, tickColor: '#444' }
  }, extra);
  const labelled = pad => ({
    autoSkip: false,
    maxRotation: 0,
    padding: pad,
    color: '#222',
    font: { family: 'DejaVu Sans', size: 12 },
    callback: v => String(+v.toFixed(2))
  });
  new Chart(document.getElementById(id), {
    type: 'scatter',
    data: { datasets: ringDatasets(rings, edges, colors) },
    options: {
      responsive: false,
      animation: false,
      events: [],
      layout: { padding: 0 },
      scales: {
        x: axis(lonRange, lonTicks, { height: frame.bottom }, { position: 'bottom', ticks: labelled(frame.xPad) }),
        y: axis(latRange, latTicks, { width: frame.left }, { position: 'left', ticks: labelled(5) }),
        x2: axis(lonRange, lonTicks, { height: frame.top }, { position: 'top', ticks: { display: false } }),
        y2: axis(latRange, latTicks, { width: frame.right }, { position: 'right', ticks: { display: false } })
      },
      plugins: {
        legend: { display: false },
        tooltip: { enabled: false },
        pageText: text,
        contourLabels: { labels: labels }
      }
    },
    plugins: [pageText, contourLabels]
  });
}

function drawColorBar(id, edges, colors, pad, axisWidth, fontSize) {
  new Chart(document.getElementById(id), {
    type: 'bar',
    data: {
      labels: ['cells'],
      datasets: colors.map((c, i) => ({
        data: [[edges[i], edges[i + 1]]],
        backgroundColor: c,
        borderColor: '#222',
        borderWidth: 1,
        borderSkipped: false,
        grouped: false,
        barPercentage: 1,
        categoryPercentage: 1
      }))
    },
    options: {
      responsive: false,
      animation: false,
      events: [],
      layout: { padding: pad },
      scales: {
        x: { display: false },
        y: {
          position: 'right',
          min: edges[0],
          max: edges[edges.length - 1],
          afterBuildTicks: s => { s.ticks = edges.slice(0, -1).map(v => ({ value: v })); },
          afterFit: s => { s.width = axisWidth; s.paddingTop = 0; s.paddingBottom = 0; },
          grid: { display: false, drawTicks: false },
          border: { display: false },
          ticks: { autoSkip: false, padding: 4, color: '#111', font: { family: 'DejaVu Sans', size: fontSize }, callback: v => String(v) }
        }
      },
      plugins: { legend: { display: false }, tooltip: { enabled: false } }
    }
  });
}

function drawScaleBar(id, pad, axisHeight) {
  new Chart(document.getElementById(id), {
    type: 'bar',
    data: {
      labels: ['bar'],
      datasets: scaleColors.map((c, i) => ({
        data: [[scaleTicks[i], scaleTicks[i + 1]]],
        backgroundColor: c,
        borderColor: '#222',
        borderWidth: 1,
        borderSkipped: false,
        grouped: false,
        barPercentage: 1,
        categoryPercentage: 1
      }))
    },
    options: {
      indexAxis: 'y',
      responsive: false,
      animation: false,
      events: [],
      layout: { padding: pad },
      scales: {
        y: { display: false },
        x: {
          min: 0,
          max: 0.08,
          afterBuildTicks: s => { s.ticks = scaleTicks.map(v => ({ value: v })); },
          afterFit: s => { s.height = axisHeight; s.paddingLeft = 0; s.paddingRight = 0; },
          grid: { display: false, drawTicks: false },
          border: { display: false },
          ticks: { autoSkip: false, maxRotation: 0, padding: 2, color: '#222', font: { family: 'Liberation Sans', size: 8 }, callback: v => String(v) }
        }
      },
      plugins: { legend: { display: false }, tooltip: { enabled: false } }
    }
  });
}

drawMap('mapMno', mnoRings, mnoEdges, mnoColors, { left: 99, right: 80, top: 55, bottom: 108, xPad: 1 }, {
  box: { x: 102, y: 58, w: 61, h: 60 },
  items: [
    { text: 'MnO (wt%)', font: '27px "Liberation Sans"', x: 441, y: 37, width: 208 },
    { text: 'Westing coordinate', font: '27px "Liberation Serif"', x: 434, y: 586, width: 344 },
    { text: 'Northing coordinate', font: '31px "Liberation Serif"', x: 43, y: 284, width: 276, rotate: -90 },
    { text: 'm', font: 'bold 31px "Liberation Serif"', x: 136, y: 99 }
  ]
}, []);

drawMap('mapNi', niRings, niEdges, niColors, { left: 106, right: 88, top: 102, bottom: 93, xPad: 2 }, {
  box: { x: 102.3, y: 108.5, w: 60.4, h: 65.5 },
  items: [
    { text: 'Ni (ppm)', font: '27px "Liberation Sans"', x: 385, y: 79, width: 155 },
    { text: 'Westing coordinate', font: '27px "Liberation Serif"', x: 433, y: 682, width: 336 },
    { text: 'Northing coordinate', font: '35px "Liberation Serif"', x: 49, y: 352, width: 300, rotate: -90 },
    { text: 'n', font: 'bold 31px "Liberation Serif"', x: 131.7, y: 150 }
  ]
}, niLabels);

drawColorBar('barMno', mnoEdges, mnoColors, { left: 5.7, top: 7.7, bottom: 14, right: 0 }, 30.7, 12);
drawColorBar('barNi', niEdges, niColors, { left: 5.3, top: 8, bottom: 9, right: 0 }, 46.3, 11.5);
drawScaleBar('scaleMno', { left: 8, right: 13.3, top: 5, bottom: 0 }, 15.3);
drawScaleBar('scaleNi', { left: 8, right: 14.7, top: 5, bottom: 0 }, 13);
</script>
</body>
</html>
